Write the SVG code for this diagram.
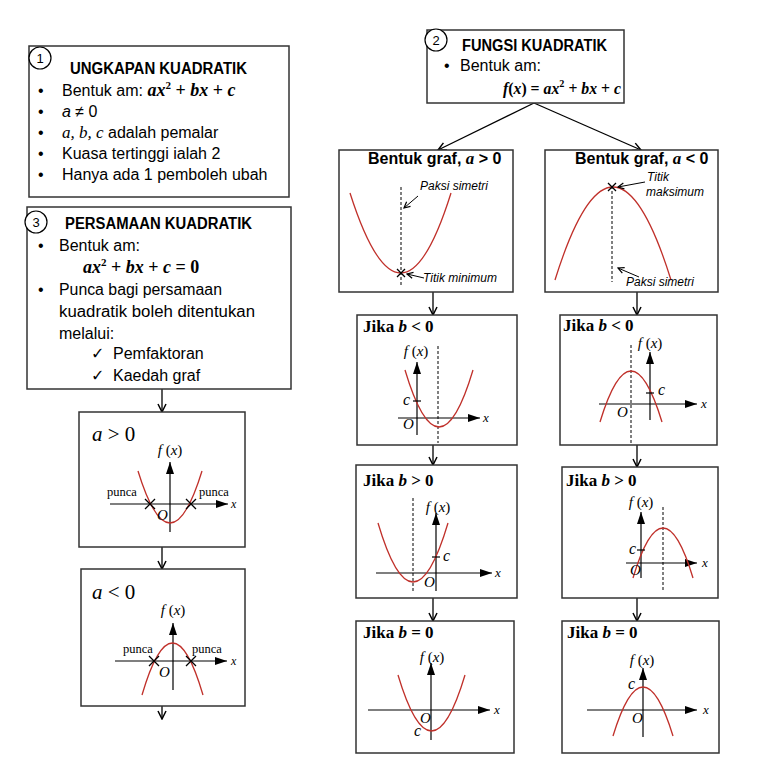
<svg xmlns="http://www.w3.org/2000/svg" width="757" height="758" viewBox="0 0 757 758">
<defs>
<style>
.box{fill:#fff;stroke:#333;stroke-width:1.5}
.t{font-family:"Liberation Sans",Arial,sans-serif;font-size:16px;fill:#000}
.b{font-weight:bold}
.it{font-style:italic}
.m{font-family:"Liberation Serif","Times New Roman",serif;fill:#000}
.num{font-family:"Liberation Sans",Arial,sans-serif;font-size:13px;text-anchor:middle}
.circ{fill:#fff;stroke:#000;stroke-width:1.2}
.curve{fill:none;stroke:#c0302a;stroke-width:1.3}
.ax{stroke:#000;stroke-width:1.2;fill:none}
.axa{stroke:#000;stroke-width:1.2;fill:none;marker-end:url(#ah)}
.dash{stroke:#000;stroke-width:1;stroke-dasharray:3 2;fill:none}
.cr{stroke:#000;stroke-width:1.3}
.conn{stroke:#000;stroke-width:1.3;fill:none;marker-end:url(#ar)}
.ptr{stroke:#000;stroke-width:1;fill:none;marker-end:url(#pa)}
.lbl{font-family:"Liberation Sans",Arial,sans-serif;font-style:italic;font-size:12px;fill:#000}
.chk{font-family:"DejaVu Sans",sans-serif;font-size:16px;fill:#000}
</style>
<marker id="ar" viewBox="0 0 10 10" refX="9" refY="5" markerWidth="10" markerHeight="10" markerUnits="userSpaceOnUse" orient="auto">
<path d="M1,1 L9,5 L1,9" fill="none" stroke="#000" stroke-width="1.5"/>
</marker>
<marker id="ah" viewBox="0 0 12 8" refX="12" refY="4" markerWidth="12" markerHeight="8" markerUnits="userSpaceOnUse" orient="auto">
<path d="M0,0 L12,4 L0,8 Z" fill="#000"/>
</marker>
<marker id="pa" viewBox="0 0 8 8" refX="7" refY="4" markerWidth="8" markerHeight="8" markerUnits="userSpaceOnUse" orient="auto">
<path d="M1,1 L7,4 L1,7" fill="none" stroke="#000" stroke-width="1.2"/>
</marker>
</defs>
<rect width="757" height="758" fill="#fff"/>

<g id="connectors">
<line class="conn" x1="534" y1="103" x2="438" y2="150"/>
<line class="conn" x1="534" y1="103" x2="641" y2="150"/>
<line class="conn" x1="162" y1="389" x2="162" y2="412"/>
<line class="conn" x1="162" y1="547" x2="162" y2="569"/>
<line class="conn" x1="162" y1="706" x2="162" y2="719"/>
<line class="conn" x1="433" y1="292" x2="433" y2="315"/>
<line class="conn" x1="433" y1="445" x2="433" y2="465"/>
<line class="conn" x1="433" y1="598" x2="433" y2="621"/>
<line class="conn" x1="637" y1="292" x2="637" y2="315"/>
<line class="conn" x1="637" y1="445" x2="637" y2="467"/>
<line class="conn" x1="637" y1="598" x2="637" y2="621"/>
</g>

<g id="node1">
<rect class="box" x="29" y="46" width="260" height="151"/>
<circle class="circ" cx="40" cy="58" r="11"/>
<text class="num" x="40" y="63">1</text>
<text class="t b" x="70" y="74" font-size="17" textLength="177" lengthAdjust="spacingAndGlyphs">UNGKAPAN KUADRATIK</text>
<text class="t" x="38" y="96">•</text>
<text class="t" x="62" y="96">Bentuk am: <tspan class="m b it" font-size="18">ax</tspan><tspan class="m b" font-size="11" dy="-7">2</tspan><tspan class="m b" font-size="18" dy="7"> + </tspan><tspan class="m b it" font-size="18">bx</tspan><tspan class="m b" font-size="18"> + </tspan><tspan class="m b it" font-size="18">c</tspan></text>
<text class="t" x="38" y="117">•</text>
<text class="t" x="62" y="117"><tspan class="it">a</tspan> ≠ 0</text>
<text class="t" x="38" y="138">•</text>
<text class="t" x="62" y="138"><tspan class="m it" font-size="17">a, b, c</tspan> adalah pemalar</text>
<text class="t" x="38" y="159">•</text>
<text class="t" x="62" y="159">Kuasa tertinggi ialah 2</text>
<text class="t" x="38" y="180">•</text>
<text class="t" x="62" y="180">Hanya ada 1 pemboleh ubah</text>
</g>

<g id="node3">
<rect class="box" x="27" y="207" width="264" height="182"/>
<circle class="circ" cx="36" cy="222" r="11"/>
<text class="num" x="36" y="227">3</text>
<text class="t b" x="65" y="229" font-size="17" textLength="187" lengthAdjust="spacingAndGlyphs">PERSAMAAN KUADRATIK</text>
<text class="t" x="38" y="251">•</text>
<text class="t" x="59" y="251">Bentuk am:</text>
<text class="m b" x="83" y="273" font-size="18"><tspan class="it">ax</tspan><tspan font-size="11" dy="-7">2</tspan><tspan dy="7"> + </tspan><tspan class="it">bx</tspan> + <tspan class="it">c</tspan> = 0</text>
<text class="t" x="38" y="295">•</text>
<text class="t" x="59" y="295" textLength="163" lengthAdjust="spacingAndGlyphs">Punca bagi persamaan</text>
<text class="t" x="59" y="317" textLength="196" lengthAdjust="spacingAndGlyphs">kuadratik boleh ditentukan</text>
<text class="t" x="59" y="339">melalui:</text>
<text class="chk" x="91" y="359">✓</text>
<text class="t" x="113" y="359">Pemfaktoran</text>
<text class="chk" x="91" y="381">✓</text>
<text class="t" x="113" y="381">Kaedah graf</text>
</g>

<g id="node-a-pos-roots">
<rect class="box" x="79" y="412" width="166" height="135"/>
<text class="m" x="92" y="441" font-size="21"><tspan class="it">a</tspan> &gt; 0</text>
<text class="m" x="170" y="455" font-size="15" text-anchor="middle"><tspan class="it">f</tspan> (<tspan class="it">x</tspan>)</text>
<line class="ax" x1="170" y1="532" x2="170" y2="470"/>
<line class="axa" x1="170" y1="474" x2="170" y2="462"/>
<line class="axa" x1="110" y1="504" x2="228" y2="504"/>
<text class="m it" x="231" y="508" font-size="12">x</text>
<path class="curve" d="M138,471 Q170,575 202,471"/>
<path class="cr" d="M145,499 L155,509 M145,509 L155,499 M186,499 L196,509 M186,509 L196,499"/>
<text class="m" x="107" y="496" font-size="12.5">punca</text>
<text class="m" x="199" y="496" font-size="12.5">punca</text>
<text class="m it" x="157" y="520" font-size="15">O</text>
</g>

<g id="node-a-neg-roots">
<rect class="box" x="81" y="569" width="164" height="137"/>
<text class="m" x="92" y="599" font-size="21"><tspan class="it">a</tspan> &lt; 0</text>
<text class="m" x="173" y="615" font-size="15" text-anchor="middle"><tspan class="it">f</tspan> (<tspan class="it">x</tspan>)</text>
<line class="ax" x1="173" y1="690" x2="173" y2="630"/>
<line class="axa" x1="173" y1="635" x2="173" y2="623"/>
<line class="axa" x1="115" y1="661" x2="227" y2="661"/>
<text class="m it" x="231" y="665" font-size="12">x</text>
<path class="curve" d="M142,695 Q172.5,591 203,695"/>
<path class="cr" d="M149,656 L159,666 M149,666 L159,656 M186,656 L196,666 M186,666 L196,656"/>
<text class="m" x="123" y="653" font-size="12.5">punca</text>
<text class="m" x="192" y="653" font-size="12.5">punca</text>
<text class="m it" x="159" y="677" font-size="15">O</text>
</g>

<g id="node2">
<rect class="box" x="427" y="30" width="197" height="73"/>
<circle class="circ" cx="436" cy="40" r="11"/>
<text class="num" x="436" y="45">2</text>
<text class="t b" x="462" y="51" font-size="17" textLength="145" lengthAdjust="spacingAndGlyphs">FUNGSI KUADRATIK</text>
<text class="t" x="444" y="71">•</text>
<text class="t" x="460" y="71">Bentuk am:</text>
<text class="m b" x="503" y="94" font-size="17" textLength="118" lengthAdjust="spacingAndGlyphs"><tspan class="it">f</tspan>(<tspan class="it">x</tspan>) = <tspan class="it">ax</tspan><tspan font-size="11" dy="-7">2</tspan><tspan dy="7"> + </tspan><tspan class="it">bx</tspan> + <tspan class="it">c</tspan></text>
</g>

<g id="node-graf-a-pos">
<rect class="box" x="339" y="150" width="174" height="142"/>
<text class="t b" x="368" y="164" font-size="15">Bentuk graf, <tspan class="m it" font-size="17">a</tspan> &gt; 0</text>
<path class="curve" d="M350,193 Q401,353 451,193"/>
<line class="dash" x1="401" y1="187" x2="401" y2="286"/>
<path class="cr" d="M397,269 L405,277 M397,277 L405,269"/>
<text class="lbl" x="420" y="190">Paksi simetri</text>
<line class="ptr" x1="418" y1="196" x2="404" y2="208"/>
<text class="lbl" x="423" y="282">Titik minimum</text>
<line class="ptr" x1="424" y1="278" x2="407" y2="274"/>
</g>

<g id="node-graf-a-neg">
<rect class="box" x="545" y="150" width="173" height="142"/>
<text class="t b" x="575" y="164" font-size="15">Bentuk graf, <tspan class="m it" font-size="17">a</tspan> &lt; 0</text>
<path class="curve" d="M555,280 Q613,94 671,280"/>
<line class="dash" x1="612" y1="186" x2="612" y2="282"/>
<path class="cr" d="M608,183 L616,191 M608,191 L616,183"/>
<text class="lbl" x="647" y="181">Titik</text>
<text class="lbl" x="646" y="196">maksimum</text>
<line class="ptr" x1="645" y1="182" x2="618" y2="187"/>
<text class="lbl" x="626" y="286">Paksi simetri</text>
<line class="ptr" x1="639" y1="277" x2="618" y2="268"/>
</g>

<g id="node-left-b-neg">
<rect class="box" x="357" y="315" width="160" height="130"/>
<text class="m b" x="363" y="332" font-size="17">Jika <tspan class="it">b</tspan> &lt; 0</text>
<text class="m" x="416" y="356" font-size="15" text-anchor="middle"><tspan class="it">f</tspan> (<tspan class="it">x</tspan>)</text>
<line class="ax" x1="417" y1="435" x2="417" y2="370"/>
<line class="axa" x1="417" y1="374" x2="417" y2="362"/>
<line class="axa" x1="398" y1="418" x2="480" y2="418"/>
<text class="m it" x="483" y="422" font-size="13">x</text>
<line class="dash" x1="438" y1="346" x2="438" y2="443"/>
<path class="curve" d="M405,370 Q439,484 473,370"/>
<line class="ax" x1="413" y1="401" x2="421" y2="401"/>
<text class="m it" x="403" y="405" font-size="16">c</text>
<text class="m it" x="403" y="429" font-size="15">O</text>
</g>

<g id="node-left-b-pos">
<rect class="box" x="356" y="465" width="161" height="133"/>
<text class="m b" x="363" y="486" font-size="17">Jika <tspan class="it">b</tspan> &gt; 0</text>
<text class="m" x="438" y="512" font-size="15" text-anchor="middle"><tspan class="it">f</tspan> (<tspan class="it">x</tspan>)</text>
<line class="ax" x1="436" y1="591" x2="436" y2="520"/>
<line class="axa" x1="436" y1="525" x2="436" y2="513"/>
<line class="axa" x1="376" y1="573" x2="492" y2="573"/>
<text class="m it" x="495" y="577" font-size="13">x</text>
<line class="dash" x1="413" y1="498" x2="413" y2="593"/>
<path class="curve" d="M378,523 Q413,641 448,523"/>
<line class="ax" x1="432" y1="557" x2="440" y2="557"/>
<text class="m it" x="443" y="561" font-size="16">c</text>
<text class="m it" x="424" y="587" font-size="15">O</text>
</g>

<g id="node-left-b-zero">
<rect class="box" x="356" y="621" width="158" height="132"/>
<text class="m b" x="363" y="638" font-size="17">Jika <tspan class="it">b</tspan> = 0</text>
<text class="m" x="432" y="662" font-size="15" text-anchor="middle"><tspan class="it">f</tspan> (<tspan class="it">x</tspan>)</text>
<line class="ax" x1="431" y1="740" x2="431" y2="670"/>
<line class="axa" x1="431" y1="675" x2="431" y2="663"/>
<line class="axa" x1="368" y1="710" x2="490" y2="710"/>
<text class="m it" x="494" y="714" font-size="13">x</text>
<path class="curve" d="M398,675 Q431.5,787 465,675"/>
<text class="m it" x="420" y="723" font-size="15">O</text>
<text class="m it" x="414" y="736" font-size="16">c</text>
</g>

<g id="node-right-b-neg">
<rect class="box" x="560" y="315" width="157" height="130"/>
<text class="m b" x="563" y="331" font-size="17">Jika <tspan class="it">b</tspan> &lt; 0</text>
<text class="m" x="650" y="348" font-size="15" text-anchor="middle"><tspan class="it">f</tspan> (<tspan class="it">x</tspan>)</text>
<line class="ax" x1="650" y1="420" x2="650" y2="360"/>
<line class="axa" x1="650" y1="364" x2="650" y2="352"/>
<line class="axa" x1="599" y1="404" x2="697" y2="404"/>
<text class="m it" x="701" y="408" font-size="13">x</text>
<line class="dash" x1="631" y1="345" x2="631" y2="443"/>
<path class="curve" d="M600,422 Q631,320 662,422"/>
<line class="ax" x1="646" y1="393" x2="654" y2="393"/>
<text class="m it" x="658" y="395" font-size="16">c</text>
<text class="m it" x="617" y="417" font-size="15">O</text>
</g>

<g id="node-right-b-pos">
<rect class="box" x="562" y="467" width="156" height="131"/>
<text class="m b" x="566" y="486" font-size="17">Jika <tspan class="it">b</tspan> &gt; 0</text>
<text class="m" x="641" y="507" font-size="15" text-anchor="middle"><tspan class="it">f</tspan> (<tspan class="it">x</tspan>)</text>
<line class="ax" x1="641" y1="578" x2="641" y2="520"/>
<line class="axa" x1="641" y1="524" x2="641" y2="512"/>
<line class="axa" x1="626" y1="563" x2="697" y2="563"/>
<text class="m it" x="702" y="567" font-size="13">x</text>
<line class="dash" x1="663" y1="507" x2="663" y2="590"/>
<path class="curve" d="M633,578 Q663,478 693,578"/>
<line class="ax" x1="637" y1="550" x2="645" y2="550"/>
<text class="m it" x="629" y="554" font-size="16">c</text>
<text class="m it" x="630" y="575" font-size="15">O</text>
</g>

<g id="node-right-b-zero">
<rect class="box" x="562" y="621" width="157" height="132"/>
<text class="m b" x="567" y="638" font-size="17">Jika <tspan class="it">b</tspan> = 0</text>
<text class="m" x="642" y="665" font-size="15" text-anchor="middle"><tspan class="it">f</tspan> (<tspan class="it">x</tspan>)</text>
<line class="ax" x1="643" y1="737" x2="643" y2="675"/>
<line class="axa" x1="643" y1="680" x2="643" y2="668"/>
<line class="axa" x1="587" y1="710" x2="697" y2="710"/>
<text class="m it" x="703" y="714" font-size="13">x</text>
<path class="curve" d="M613,736 Q643,638 673,736"/>
<text class="m it" x="628" y="689" font-size="16">c</text>
<text class="m it" x="632" y="723" font-size="15">O</text>
</g>
</svg>
